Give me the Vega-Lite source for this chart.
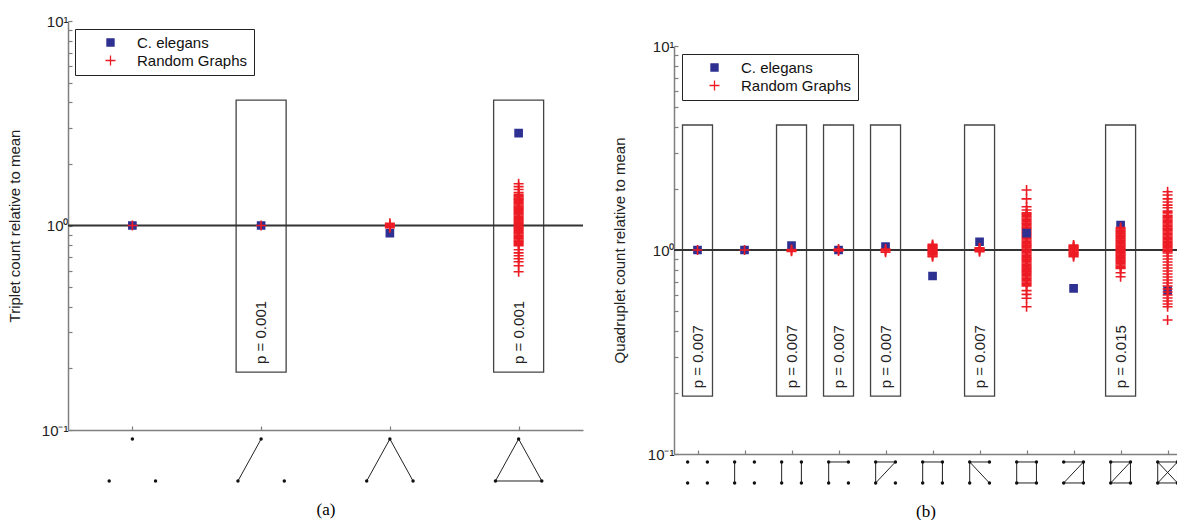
{
  "$schema": "https://vega.github.io/schema/vega-lite/v6.json",
  "background": "white",
  "padding": {"left": 7, "top": 14, "right": 0, "bottom": 0},
  "datasets": {
    "pointsA": [
      {"cat":1,"series":"C. elegans","value":1.0},
      {"cat":2,"series":"C. elegans","value":1.0},
      {"cat":3,"series":"C. elegans","value":0.918},
      {"cat":4,"series":"C. elegans","value":2.83},
      {"cat":1,"series":"Random Graphs","value":1.0},
      {"cat":2,"series":"Random Graphs","value":1.0},
      {"cat":3,"series":"Random Graphs","value":0.975},
      {"cat":3,"series":"Random Graphs","value":0.99},
      {"cat":3,"series":"Random Graphs","value":1.0},
      {"cat":3,"series":"Random Graphs","value":1.01},
      {"cat":3,"series":"Random Graphs","value":1.025},
      {"cat":4,"series":"Random Graphs","value":1.60},
      {"cat":4,"series":"Random Graphs","value":1.55},
      {"cat":4,"series":"Random Graphs","value":1.50},
      {"cat":4,"series":"Random Graphs","value":1.45},
      {"cat":4,"series":"Random Graphs","value":1.42},
      {"cat":4,"series":"Random Graphs","value":1.40},
      {"cat":4,"series":"Random Graphs","value":1.38},
      {"cat":4,"series":"Random Graphs","value":1.36},
      {"cat":4,"series":"Random Graphs","value":1.345},
      {"cat":4,"series":"Random Graphs","value":1.33},
      {"cat":4,"series":"Random Graphs","value":1.31},
      {"cat":4,"series":"Random Graphs","value":1.295},
      {"cat":4,"series":"Random Graphs","value":1.28},
      {"cat":4,"series":"Random Graphs","value":1.26},
      {"cat":4,"series":"Random Graphs","value":1.245},
      {"cat":4,"series":"Random Graphs","value":1.23},
      {"cat":4,"series":"Random Graphs","value":1.215},
      {"cat":4,"series":"Random Graphs","value":1.2},
      {"cat":4,"series":"Random Graphs","value":1.185},
      {"cat":4,"series":"Random Graphs","value":1.17},
      {"cat":4,"series":"Random Graphs","value":1.155},
      {"cat":4,"series":"Random Graphs","value":1.14},
      {"cat":4,"series":"Random Graphs","value":1.125},
      {"cat":4,"series":"Random Graphs","value":1.11},
      {"cat":4,"series":"Random Graphs","value":1.095},
      {"cat":4,"series":"Random Graphs","value":1.08},
      {"cat":4,"series":"Random Graphs","value":1.065},
      {"cat":4,"series":"Random Graphs","value":1.05},
      {"cat":4,"series":"Random Graphs","value":1.035},
      {"cat":4,"series":"Random Graphs","value":1.02},
      {"cat":4,"series":"Random Graphs","value":1.008},
      {"cat":4,"series":"Random Graphs","value":0.995},
      {"cat":4,"series":"Random Graphs","value":0.982},
      {"cat":4,"series":"Random Graphs","value":0.97},
      {"cat":4,"series":"Random Graphs","value":0.957},
      {"cat":4,"series":"Random Graphs","value":0.945},
      {"cat":4,"series":"Random Graphs","value":0.933},
      {"cat":4,"series":"Random Graphs","value":0.92},
      {"cat":4,"series":"Random Graphs","value":0.908},
      {"cat":4,"series":"Random Graphs","value":0.896},
      {"cat":4,"series":"Random Graphs","value":0.884},
      {"cat":4,"series":"Random Graphs","value":0.872},
      {"cat":4,"series":"Random Graphs","value":0.861},
      {"cat":4,"series":"Random Graphs","value":0.85},
      {"cat":4,"series":"Random Graphs","value":0.839},
      {"cat":4,"series":"Random Graphs","value":0.828},
      {"cat":4,"series":"Random Graphs","value":0.817},
      {"cat":4,"series":"Random Graphs","value":0.806},
      {"cat":4,"series":"Random Graphs","value":0.796},
      {"cat":4,"series":"Random Graphs","value":0.761},
      {"cat":4,"series":"Random Graphs","value":0.735},
      {"cat":4,"series":"Random Graphs","value":0.711},
      {"cat":4,"series":"Random Graphs","value":0.688},
      {"cat":4,"series":"Random Graphs","value":0.665},
      {"cat":4,"series":"Random Graphs","value":0.636},
      {"cat":4,"series":"Random Graphs","value":0.594}
    ],
    "pointsB": [
      {"cat":1,"series":"C. elegans","value":1.0},
      {"cat":2,"series":"C. elegans","value":1.0},
      {"cat":3,"series":"C. elegans","value":1.05},
      {"cat":4,"series":"C. elegans","value":1.0},
      {"cat":5,"series":"C. elegans","value":1.04},
      {"cat":6,"series":"C. elegans","value":0.746},
      {"cat":7,"series":"C. elegans","value":1.098},
      {"cat":9,"series":"C. elegans","value":0.649},
      {"cat":10,"series":"C. elegans","value":1.326},
      {"cat":11,"series":"C. elegans","value":0.632},
      {"cat":1,"series":"Random Graphs","value":1.0},
      {"cat":2,"series":"Random Graphs","value":1.0},
      {"cat":3,"series":"Random Graphs","value":0.985},
      {"cat":3,"series":"Random Graphs","value":0.995},
      {"cat":3,"series":"Random Graphs","value":1.005},
      {"cat":4,"series":"Random Graphs","value":0.99},
      {"cat":4,"series":"Random Graphs","value":1.0},
      {"cat":4,"series":"Random Graphs","value":1.01},
      {"cat":5,"series":"Random Graphs","value":0.975},
      {"cat":5,"series":"Random Graphs","value":0.99},
      {"cat":5,"series":"Random Graphs","value":1.0},
      {"cat":5,"series":"Random Graphs","value":1.01},
      {"cat":6,"series":"Random Graphs","value":1.065},
      {"cat":6,"series":"Random Graphs","value":1.055},
      {"cat":6,"series":"Random Graphs","value":1.045},
      {"cat":6,"series":"Random Graphs","value":1.035},
      {"cat":6,"series":"Random Graphs","value":1.025},
      {"cat":6,"series":"Random Graphs","value":1.015},
      {"cat":6,"series":"Random Graphs","value":1.005},
      {"cat":6,"series":"Random Graphs","value":0.995},
      {"cat":6,"series":"Random Graphs","value":0.985},
      {"cat":6,"series":"Random Graphs","value":0.975},
      {"cat":6,"series":"Random Graphs","value":0.965},
      {"cat":6,"series":"Random Graphs","value":0.955},
      {"cat":6,"series":"Random Graphs","value":0.945},
      {"cat":6,"series":"Random Graphs","value":0.935},
      {"cat":6,"series":"Random Graphs","value":0.927},
      {"cat":7,"series":"Random Graphs","value":0.98},
      {"cat":7,"series":"Random Graphs","value":0.99},
      {"cat":7,"series":"Random Graphs","value":1.0},
      {"cat":7,"series":"Random Graphs","value":1.01},
      {"cat":7,"series":"Random Graphs","value":1.02},
      {"cat":7,"series":"Random Graphs","value":1.026},
      {"cat":8,"series":"Random Graphs","value":1.97},
      {"cat":8,"series":"Random Graphs","value":1.78},
      {"cat":8,"series":"Random Graphs","value":1.63},
      {"cat":8,"series":"Random Graphs","value":1.57},
      {"cat":8,"series":"Random Graphs","value":1.52},
      {"cat":8,"series":"Random Graphs","value":1.50},
      {"cat":8,"series":"Random Graphs","value":1.475},
      {"cat":8,"series":"Random Graphs","value":1.455},
      {"cat":8,"series":"Random Graphs","value":1.435},
      {"cat":8,"series":"Random Graphs","value":1.415},
      {"cat":8,"series":"Random Graphs","value":1.395},
      {"cat":8,"series":"Random Graphs","value":1.375},
      {"cat":8,"series":"Random Graphs","value":1.355},
      {"cat":8,"series":"Random Graphs","value":1.335},
      {"cat":8,"series":"Random Graphs","value":1.315},
      {"cat":8,"series":"Random Graphs","value":1.295},
      {"cat":8,"series":"Random Graphs","value":1.275},
      {"cat":8,"series":"Random Graphs","value":1.258},
      {"cat":8,"series":"Random Graphs","value":1.24},
      {"cat":8,"series":"Random Graphs","value":1.222},
      {"cat":8,"series":"Random Graphs","value":1.205},
      {"cat":8,"series":"Random Graphs","value":1.188},
      {"cat":8,"series":"Random Graphs","value":1.171},
      {"cat":8,"series":"Random Graphs","value":1.154},
      {"cat":8,"series":"Random Graphs","value":1.137},
      {"cat":8,"series":"Random Graphs","value":1.12},
      {"cat":8,"series":"Random Graphs","value":1.104},
      {"cat":8,"series":"Random Graphs","value":1.088},
      {"cat":8,"series":"Random Graphs","value":1.072},
      {"cat":8,"series":"Random Graphs","value":1.057},
      {"cat":8,"series":"Random Graphs","value":1.042},
      {"cat":8,"series":"Random Graphs","value":1.027},
      {"cat":8,"series":"Random Graphs","value":1.012},
      {"cat":8,"series":"Random Graphs","value":0.998},
      {"cat":8,"series":"Random Graphs","value":0.984},
      {"cat":8,"series":"Random Graphs","value":0.97},
      {"cat":8,"series":"Random Graphs","value":0.956},
      {"cat":8,"series":"Random Graphs","value":0.942},
      {"cat":8,"series":"Random Graphs","value":0.928},
      {"cat":8,"series":"Random Graphs","value":0.915},
      {"cat":8,"series":"Random Graphs","value":0.902},
      {"cat":8,"series":"Random Graphs","value":0.889},
      {"cat":8,"series":"Random Graphs","value":0.876},
      {"cat":8,"series":"Random Graphs","value":0.863},
      {"cat":8,"series":"Random Graphs","value":0.851},
      {"cat":8,"series":"Random Graphs","value":0.839},
      {"cat":8,"series":"Random Graphs","value":0.827},
      {"cat":8,"series":"Random Graphs","value":0.815},
      {"cat":8,"series":"Random Graphs","value":0.803},
      {"cat":8,"series":"Random Graphs","value":0.792},
      {"cat":8,"series":"Random Graphs","value":0.781},
      {"cat":8,"series":"Random Graphs","value":0.77},
      {"cat":8,"series":"Random Graphs","value":0.759},
      {"cat":8,"series":"Random Graphs","value":0.748},
      {"cat":8,"series":"Random Graphs","value":0.737},
      {"cat":8,"series":"Random Graphs","value":0.727},
      {"cat":8,"series":"Random Graphs","value":0.717},
      {"cat":8,"series":"Random Graphs","value":0.707},
      {"cat":8,"series":"Random Graphs","value":0.697},
      {"cat":8,"series":"Random Graphs","value":0.687},
      {"cat":8,"series":"Random Graphs","value":0.677},
      {"cat":8,"series":"Random Graphs","value":0.667},
      {"cat":8,"series":"Random Graphs","value":0.632},
      {"cat":8,"series":"Random Graphs","value":0.606},
      {"cat":8,"series":"Random Graphs","value":0.58},
      {"cat":8,"series":"Random Graphs","value":0.527},
      {"cat":9,"series":"Random Graphs","value":1.058},
      {"cat":9,"series":"Random Graphs","value":1.048},
      {"cat":9,"series":"Random Graphs","value":1.038},
      {"cat":9,"series":"Random Graphs","value":1.028},
      {"cat":9,"series":"Random Graphs","value":1.018},
      {"cat":9,"series":"Random Graphs","value":1.008},
      {"cat":9,"series":"Random Graphs","value":0.998},
      {"cat":9,"series":"Random Graphs","value":0.988},
      {"cat":9,"series":"Random Graphs","value":0.978},
      {"cat":9,"series":"Random Graphs","value":0.968},
      {"cat":9,"series":"Random Graphs","value":0.958},
      {"cat":9,"series":"Random Graphs","value":0.948},
      {"cat":9,"series":"Random Graphs","value":0.938},
      {"cat":9,"series":"Random Graphs","value":0.927},
      {"cat":10,"series":"Random Graphs","value":1.29},
      {"cat":10,"series":"Random Graphs","value":1.27},
      {"cat":10,"series":"Random Graphs","value":1.252},
      {"cat":10,"series":"Random Graphs","value":1.234},
      {"cat":10,"series":"Random Graphs","value":1.217},
      {"cat":10,"series":"Random Graphs","value":1.2},
      {"cat":10,"series":"Random Graphs","value":1.183},
      {"cat":10,"series":"Random Graphs","value":1.166},
      {"cat":10,"series":"Random Graphs","value":1.15},
      {"cat":10,"series":"Random Graphs","value":1.134},
      {"cat":10,"series":"Random Graphs","value":1.118},
      {"cat":10,"series":"Random Graphs","value":1.102},
      {"cat":10,"series":"Random Graphs","value":1.087},
      {"cat":10,"series":"Random Graphs","value":1.072},
      {"cat":10,"series":"Random Graphs","value":1.057},
      {"cat":10,"series":"Random Graphs","value":1.042},
      {"cat":10,"series":"Random Graphs","value":1.027},
      {"cat":10,"series":"Random Graphs","value":1.013},
      {"cat":10,"series":"Random Graphs","value":0.999},
      {"cat":10,"series":"Random Graphs","value":0.985},
      {"cat":10,"series":"Random Graphs","value":0.971},
      {"cat":10,"series":"Random Graphs","value":0.957},
      {"cat":10,"series":"Random Graphs","value":0.944},
      {"cat":10,"series":"Random Graphs","value":0.931},
      {"cat":10,"series":"Random Graphs","value":0.918},
      {"cat":10,"series":"Random Graphs","value":0.905},
      {"cat":10,"series":"Random Graphs","value":0.892},
      {"cat":10,"series":"Random Graphs","value":0.88},
      {"cat":10,"series":"Random Graphs","value":0.868},
      {"cat":10,"series":"Random Graphs","value":0.856},
      {"cat":10,"series":"Random Graphs","value":0.844},
      {"cat":10,"series":"Random Graphs","value":0.832},
      {"cat":10,"series":"Random Graphs","value":0.82},
      {"cat":10,"series":"Random Graphs","value":0.813},
      {"cat":10,"series":"Random Graphs","value":0.774},
      {"cat":10,"series":"Random Graphs","value":0.74},
      {"cat":11,"series":"Random Graphs","value":1.93},
      {"cat":11,"series":"Random Graphs","value":1.86},
      {"cat":11,"series":"Random Graphs","value":1.78},
      {"cat":11,"series":"Random Graphs","value":1.72},
      {"cat":11,"series":"Random Graphs","value":1.66},
      {"cat":11,"series":"Random Graphs","value":1.61},
      {"cat":11,"series":"Random Graphs","value":1.55},
      {"cat":11,"series":"Random Graphs","value":1.52},
      {"cat":11,"series":"Random Graphs","value":1.48},
      {"cat":11,"series":"Random Graphs","value":1.46},
      {"cat":11,"series":"Random Graphs","value":1.44},
      {"cat":11,"series":"Random Graphs","value":1.42},
      {"cat":11,"series":"Random Graphs","value":1.40},
      {"cat":11,"series":"Random Graphs","value":1.38},
      {"cat":11,"series":"Random Graphs","value":1.36},
      {"cat":11,"series":"Random Graphs","value":1.34},
      {"cat":11,"series":"Random Graphs","value":1.32},
      {"cat":11,"series":"Random Graphs","value":1.30},
      {"cat":11,"series":"Random Graphs","value":1.28},
      {"cat":11,"series":"Random Graphs","value":1.262},
      {"cat":11,"series":"Random Graphs","value":1.244},
      {"cat":11,"series":"Random Graphs","value":1.226},
      {"cat":11,"series":"Random Graphs","value":1.208},
      {"cat":11,"series":"Random Graphs","value":1.19},
      {"cat":11,"series":"Random Graphs","value":1.172},
      {"cat":11,"series":"Random Graphs","value":1.155},
      {"cat":11,"series":"Random Graphs","value":1.138},
      {"cat":11,"series":"Random Graphs","value":1.121},
      {"cat":11,"series":"Random Graphs","value":1.104},
      {"cat":11,"series":"Random Graphs","value":1.088},
      {"cat":11,"series":"Random Graphs","value":1.072},
      {"cat":11,"series":"Random Graphs","value":1.056},
      {"cat":11,"series":"Random Graphs","value":1.04},
      {"cat":11,"series":"Random Graphs","value":1.025},
      {"cat":11,"series":"Random Graphs","value":1.01},
      {"cat":11,"series":"Random Graphs","value":0.995},
      {"cat":11,"series":"Random Graphs","value":0.98},
      {"cat":11,"series":"Random Graphs","value":0.967},
      {"cat":11,"series":"Random Graphs","value":0.935},
      {"cat":11,"series":"Random Graphs","value":0.903},
      {"cat":11,"series":"Random Graphs","value":0.873},
      {"cat":11,"series":"Random Graphs","value":0.844},
      {"cat":11,"series":"Random Graphs","value":0.816},
      {"cat":11,"series":"Random Graphs","value":0.789},
      {"cat":11,"series":"Random Graphs","value":0.763},
      {"cat":11,"series":"Random Graphs","value":0.737},
      {"cat":11,"series":"Random Graphs","value":0.713},
      {"cat":11,"series":"Random Graphs","value":0.689},
      {"cat":11,"series":"Random Graphs","value":0.666},
      {"cat":11,"series":"Random Graphs","value":0.644},
      {"cat":11,"series":"Random Graphs","value":0.622},
      {"cat":11,"series":"Random Graphs","value":0.602},
      {"cat":11,"series":"Random Graphs","value":0.582},
      {"cat":11,"series":"Random Graphs","value":0.562},
      {"cat":11,"series":"Random Graphs","value":0.544},
      {"cat":11,"series":"Random Graphs","value":0.527},
      {"cat":11,"series":"Random Graphs","value":0.454},
      {"cat":8,"series":"C. elegans","value":1.21}
    ],
    "boxesA": [
      {"cat":2,"label":"p = 0.001"},
      {"cat":4,"label":"p = 0.001"}
    ],
    "boxesB": [
      {"cat":1,"label":"p = 0.007"},
      {"cat":3,"label":"p = 0.007"},
      {"cat":4,"label":"p = 0.007"},
      {"cat":5,"label":"p = 0.007"},
      {"cat":7,"label":"p = 0.007"},
      {"cat":10,"label":"p = 0.015"}
    ],
    "edgesA": [
      {"x":1.82,"y":0,"x2":2,"y2":1},
      {"x":2.82,"y":0,"x2":3,"y2":1},
      {"x":3,"y":1,"x2":3.18,"y2":0},
      {"x":3.82,"y":0,"x2":4,"y2":1},
      {"x":4,"y":1,"x2":4.18,"y2":0},
      {"x":3.82,"y":0,"x2":4.18,"y2":0}
    ],
    "nodesA": [
      {"x":1,"y":1},{"x":0.82,"y":0},{"x":1.18,"y":0},
      {"x":2,"y":1},{"x":1.82,"y":0},{"x":2.18,"y":0},
      {"x":3,"y":1},{"x":2.82,"y":0},{"x":3.18,"y":0},
      {"x":4,"y":1},{"x":3.82,"y":0},{"x":4.18,"y":0}
    ],
    "edgesB": [
      {"x":1.79,"y":1,"x2":1.79,"y2":0},
      {"x":2.79,"y":1,"x2":2.79,"y2":0},
      {"x":3.21,"y":1,"x2":3.21,"y2":0},
      {"x":3.79,"y":1,"x2":3.79,"y2":0},
      {"x":3.79,"y":1,"x2":4.21,"y2":1},
      {"x":4.79,"y":1,"x2":4.79,"y2":0},
      {"x":4.79,"y":1,"x2":5.21,"y2":1},
      {"x":5.21,"y":1,"x2":4.79,"y2":0},
      {"x":5.79,"y":1,"x2":5.79,"y2":0},
      {"x":5.79,"y":1,"x2":6.21,"y2":1},
      {"x":6.21,"y":1,"x2":6.21,"y2":0},
      {"x":6.79,"y":1,"x2":6.79,"y2":0},
      {"x":6.79,"y":1,"x2":7.21,"y2":1},
      {"x":6.79,"y":1,"x2":7.21,"y2":0},
      {"x":7.79,"y":1,"x2":8.21,"y2":1},
      {"x":8.21,"y":1,"x2":8.21,"y2":0},
      {"x":8.21,"y":0,"x2":7.79,"y2":0},
      {"x":7.79,"y":0,"x2":7.79,"y2":1},
      {"x":8.79,"y":1,"x2":9.21,"y2":1},
      {"x":9.21,"y":1,"x2":8.79,"y2":0},
      {"x":8.79,"y":0,"x2":9.21,"y2":0},
      {"x":9.21,"y":1,"x2":9.21,"y2":0},
      {"x":9.79,"y":1,"x2":10.21,"y2":1},
      {"x":10.21,"y":1,"x2":10.21,"y2":0},
      {"x":10.21,"y":0,"x2":9.79,"y2":0},
      {"x":9.79,"y":0,"x2":9.79,"y2":1},
      {"x":10.21,"y":1,"x2":9.79,"y2":0},
      {"x":10.79,"y":1,"x2":11.21,"y2":1},
      {"x":11.21,"y":1,"x2":11.21,"y2":0},
      {"x":11.21,"y":0,"x2":10.79,"y2":0},
      {"x":10.79,"y":0,"x2":10.79,"y2":1},
      {"x":10.79,"y":1,"x2":11.21,"y2":0},
      {"x":11.21,"y":1,"x2":10.79,"y2":0}
    ],
    "nodesB": [
      {"x":0.79,"y":1},{"x":1.21,"y":1},{"x":0.79,"y":0},{"x":1.21,"y":0},
      {"x":1.79,"y":1},{"x":2.21,"y":1},{"x":1.79,"y":0},{"x":2.21,"y":0},
      {"x":2.79,"y":1},{"x":3.21,"y":1},{"x":2.79,"y":0},{"x":3.21,"y":0},
      {"x":3.79,"y":1},{"x":4.21,"y":1},{"x":3.79,"y":0},{"x":4.21,"y":0},
      {"x":4.79,"y":1},{"x":5.21,"y":1},{"x":4.79,"y":0},{"x":5.21,"y":0},
      {"x":5.79,"y":1},{"x":6.21,"y":1},{"x":5.79,"y":0},{"x":6.21,"y":0},
      {"x":6.79,"y":1},{"x":7.21,"y":1},{"x":6.79,"y":0},{"x":7.21,"y":0},
      {"x":7.79,"y":1},{"x":8.21,"y":1},{"x":7.79,"y":0},{"x":8.21,"y":0},
      {"x":8.79,"y":1},{"x":9.21,"y":1},{"x":8.79,"y":0},{"x":9.21,"y":0},
      {"x":9.79,"y":1},{"x":10.21,"y":1},{"x":9.79,"y":0},{"x":10.21,"y":0},
      {"x":10.79,"y":1},{"x":11.21,"y":1},{"x":10.79,"y":0},{"x":11.21,"y":0}
    ]
  },
  "hconcat": [
    {
      "width": 515,
      "height": 409,
      "layer": [
        {
          "layer": [
            {
              "data": {"name": "boxesA"},
              "mark": {"type": "bar", "width": 50, "filled": false, "color": "#444", "strokeWidth": 1.3},
              "encoding": {
                "x": {"field": "cat", "type": "quantitative", "scale": {"domain": [0.5, 4.5], "nice": false, "zero": false, "padding": 0}},
                "y": {"datum": 0.192, "type": "quantitative", "scale": {"type": "log", "domain": [0.1, 10], "nice": false, "padding": 0}},
                "y2": {"datum": 4.1}
              }
            },
            {
              "data": {"values": [{}]},
              "mark": {"type": "rule", "color": "#333", "strokeWidth": 2},
              "encoding": {"y": {"datum": 1, "type": "quantitative", "scale": {"type": "log", "domain": [0.1, 10], "nice": false, "padding": 0}}}
            },
            {
              "data": {"name": "pointsA"},
              "mark": {"type": "point", "filled": true, "opacity": 1, "strokeWidth": 1.6},
              "encoding": {
                "x": {"field": "cat", "type": "quantitative", "scale": {"domain": [0.5, 4.5], "nice": false, "zero": false, "padding": 0},
                  "axis": {"values": [1, 2, 3, 4], "labels": false, "tickSize": -4, "title": "(a)", "titleFont": "Liberation Serif", "titleFontSize": 17, "titleColor": "#000", "titlePadding": 71}},
                "y": {"field": "value", "type": "quantitative", "scale": {"type": "log", "domain": [0.1, 10], "nice": false, "padding": 0},
                  "axis": {"values": [0.1,0.2,0.3,0.4,0.5,0.6,0.7,0.8,0.9,1,2,3,4,5,6,7,8,9,10], "labelExpr": "datum.value == 0.1 ? '10⁻¹' : datum.value == 1 ? '10⁰' : datum.value == 10 ? '10¹' : ''", "tickSize": -4, "labelPadding": 4, "labelFlush": false, "labelOverlap": false, "titlePadding": 19, "title": "Triplet count relative to mean"}},
                "fill": {"field": "series", "type": "nominal", "scale": {"domain": ["C. elegans", "Random Graphs"], "range": ["#2E3192", "#ED1C24"]},
                  "legend": {"orient": "none", "legendX": 7, "legendY": 8, "title": null, "strokeColor": "#222", "fillColor": "white", "padding": 6, "labelFont": "Liberation Sans", "labelFontSize": 15, "labelColor": "#111", "symbolStrokeWidth": 1.3, "symbolOffset": 22, "labelOffset": 19, "rowPadding": 1}},
                "stroke": {"field": "series", "type": "nominal", "scale": {"domain": ["C. elegans", "Random Graphs"], "range": ["#2E3192", "#ED1C24"]},
                  "legend": {"orient": "none", "legendX": 7, "legendY": 8, "title": null, "strokeColor": "#222", "fillColor": "white", "padding": 6, "labelFont": "Liberation Sans", "labelFontSize": 15, "labelColor": "#111", "symbolStrokeWidth": 1.3, "symbolOffset": 22, "labelOffset": 19, "rowPadding": 1}},
                "shape": {"field": "series", "type": "nominal", "scale": {"domain": ["C. elegans", "Random Graphs"], "range": ["square", "M-1,0H1M0,-1V1"]},
                  "legend": {"orient": "none", "legendX": 7, "legendY": 8, "title": null, "strokeColor": "#222", "fillColor": "white", "padding": 6, "labelFont": "Liberation Sans", "labelFontSize": 15, "labelColor": "#111", "symbolStrokeWidth": 1.3, "symbolOffset": 22, "labelOffset": 19, "rowPadding": 1}},
                "size": {"field": "series", "type": "nominal", "scale": {"domain": ["C. elegans", "Random Graphs"], "range": [50, 100]},
                  "legend": {"orient": "none", "legendX": 7, "legendY": 8, "title": null, "strokeColor": "#222", "fillColor": "white", "padding": 6, "labelFont": "Liberation Sans", "labelFontSize": 15, "labelColor": "#111", "symbolStrokeWidth": 1.3, "symbolOffset": 22, "labelOffset": 19, "rowPadding": 1}}
              }
            },
            {
              "data": {"name": "boxesA"},
              "mark": {"type": "text", "angle": 270, "fontSize": 15, "font": "Liberation Sans", "color": "#222"},
              "encoding": {
                "x": {"field": "cat", "type": "quantitative", "scale": {"domain": [0.5, 4.5], "nice": false, "zero": false, "padding": 0}},
                "y": {"datum": 0.3, "type": "quantitative", "scale": {"type": "log", "domain": [0.1, 10], "nice": false, "padding": 0}},
                "text": {"field": "label"}
              }
            }
          ]
        },
        {
          "layer": [
            {
              "data": {"name": "edgesA"},
              "mark": {"type": "rule", "color": "#222", "strokeWidth": 1},
              "encoding": {
                "x": {"field": "x", "type": "quantitative", "scale": {"domain": [0.5, 4.5], "nice": false, "zero": false, "padding": 0}},
                "x2": {"field": "x2"},
                "y": {"field": "y", "type": "quantitative", "scale": {"domain": [1.214, 10.952], "nice": false, "zero": false}, "axis": null},
                "y2": {"field": "y2"}
              }
            },
            {
              "data": {"name": "nodesA"},
              "mark": {"type": "point", "filled": true, "color": "#111", "size": 12, "opacity": 1},
              "encoding": {
                "x": {"field": "x", "type": "quantitative", "scale": {"domain": [0.5, 4.5], "nice": false, "zero": false, "padding": 0}},
                "y": {"field": "y", "type": "quantitative", "scale": {"domain": [1.214, 10.952], "nice": false, "zero": false}, "axis": null}
              }
            }
          ]
        }
      ],
      "resolve": {"scale": {"y": "independent"}}
    },
    {
      "vconcat": [
        {
          "width": 10,
          "height": 1,
          "data": {"values": [{}]},
          "mark": {"type": "point", "opacity": 0},
          "encoding": {}
        },
        {
          "width": 503,
          "height": 408,
          "layer": [
            {
              "layer": [
                {
                  "data": {"name": "boxesB"},
                  "mark": {"type": "bar", "width": 30, "filled": false, "color": "#444", "strokeWidth": 1.3},
                  "encoding": {
                    "x": {"field": "cat", "type": "quantitative", "scale": {"domain": [0.5, 11.2], "nice": false, "zero": false, "padding": 0}},
                    "y": {"datum": 0.192, "type": "quantitative", "scale": {"type": "log", "domain": [0.1, 10], "nice": false, "padding": 0}},
                    "y2": {"datum": 4.1}
                  }
                },
                {
                  "data": {"values": [{}]},
                  "mark": {"type": "rule", "color": "#333", "strokeWidth": 2},
                  "encoding": {"y": {"datum": 1, "type": "quantitative", "scale": {"type": "log", "domain": [0.1, 10], "nice": false, "padding": 0}}}
                },
                {
                  "data": {"name": "pointsB"},
                  "mark": {"type": "point", "filled": true, "opacity": 1, "strokeWidth": 1.6},
                  "encoding": {
                    "x": {"field": "cat", "type": "quantitative", "scale": {"domain": [0.5, 11.2], "nice": false, "zero": false, "padding": 0},
                      "axis": {"values": [1,2,3,4,5,6,7,8,9,10,11], "labels": false, "tickSize": -4, "title": "(b)", "titleFont": "Liberation Serif", "titleFontSize": 17, "titleColor": "#000", "titlePadding": 49}},
                    "y": {"field": "value", "type": "quantitative", "scale": {"type": "log", "domain": [0.1, 10], "nice": false, "padding": 0},
                      "axis": {"values": [0.1,0.2,0.3,0.4,0.5,0.6,0.7,0.8,0.9,1,2,3,4,5,6,7,8,9,10], "labelExpr": "datum.value == 0.1 ? '10⁻¹' : datum.value == 1 ? '10⁰' : datum.value == 10 ? '10¹' : ''", "tickSize": -4, "labelPadding": 4, "labelFlush": false, "labelOverlap": false, "titlePadding": 20, "title": "Quadruplet count relative to mean"}},
                    "fill": {"field": "series", "type": "nominal", "scale": {"domain": ["C. elegans", "Random Graphs"], "range": ["#2E3192", "#ED1C24"]},
                      "legend": {"orient": "none", "legendX": 8, "legendY": 8, "title": null, "strokeColor": "#222", "fillColor": "white", "padding": 6, "labelFont": "Liberation Sans", "labelFontSize": 15, "labelColor": "#111", "symbolStrokeWidth": 1.3, "symbolOffset": 19, "labelOffset": 19, "rowPadding": 1}},
                    "stroke": {"field": "series", "type": "nominal", "scale": {"domain": ["C. elegans", "Random Graphs"], "range": ["#2E3192", "#ED1C24"]},
                      "legend": {"orient": "none", "legendX": 8, "legendY": 8, "title": null, "strokeColor": "#222", "fillColor": "white", "padding": 6, "labelFont": "Liberation Sans", "labelFontSize": 15, "labelColor": "#111", "symbolStrokeWidth": 1.3, "symbolOffset": 19, "labelOffset": 19, "rowPadding": 1}},
                    "shape": {"field": "series", "type": "nominal", "scale": {"domain": ["C. elegans", "Random Graphs"], "range": ["square", "M-1,0H1M0,-1V1"]},
                      "legend": {"orient": "none", "legendX": 8, "legendY": 8, "title": null, "strokeColor": "#222", "fillColor": "white", "padding": 6, "labelFont": "Liberation Sans", "labelFontSize": 15, "labelColor": "#111", "symbolStrokeWidth": 1.3, "symbolOffset": 19, "labelOffset": 19, "rowPadding": 1}},
                    "size": {"field": "series", "type": "nominal", "scale": {"domain": ["C. elegans", "Random Graphs"], "range": [50, 100]},
                      "legend": {"orient": "none", "legendX": 8, "legendY": 8, "title": null, "strokeColor": "#222", "fillColor": "white", "padding": 6, "labelFont": "Liberation Sans", "labelFontSize": 15, "labelColor": "#111", "symbolStrokeWidth": 1.3, "symbolOffset": 19, "labelOffset": 19, "rowPadding": 1}}
                  }
                },
                {
                  "data": {"name": "boxesB"},
                  "mark": {"type": "text", "angle": 270, "fontSize": 15, "font": "Liberation Sans", "color": "#222"},
                  "encoding": {
                    "x": {"field": "cat", "type": "quantitative", "scale": {"domain": [0.5, 11.2], "nice": false, "zero": false, "padding": 0}},
                    "y": {"datum": 0.3, "type": "quantitative", "scale": {"type": "log", "domain": [0.1, 10], "nice": false, "padding": 0}},
                    "text": {"field": "label"}
                  }
                }
              ]
            },
            {
              "layer": [
                {
                  "data": {"name": "edgesB"},
                  "mark": {"type": "rule", "color": "#222", "strokeWidth": 1},
                  "encoding": {
                    "x": {"field": "x", "type": "quantitative", "scale": {"domain": [0.5, 11.2], "nice": false, "zero": false, "padding": 0}},
                    "x2": {"field": "x2"},
                    "y": {"field": "y", "type": "quantitative", "scale": {"domain": [1.38, 20.81], "nice": false, "zero": false}, "axis": null},
                    "y2": {"field": "y2"}
                  }
                },
                {
                  "data": {"name": "nodesB"},
                  "mark": {"type": "point", "filled": true, "color": "#111", "size": 12, "opacity": 1},
                  "encoding": {
                    "x": {"field": "x", "type": "quantitative", "scale": {"domain": [0.5, 11.2], "nice": false, "zero": false, "padding": 0}},
                    "y": {"field": "y", "type": "quantitative", "scale": {"domain": [1.38, 20.81], "nice": false, "zero": false}, "axis": null}
                  }
                }
              ]
            }
          ],
          "resolve": {"scale": {"y": "independent"}}
        }
      ],
      "spacing": 14,
      "resolve": {"scale": {"fill": "independent", "stroke": "independent", "shape": "independent", "size": "independent"}}
    }
  ],
  "spacing": 28,
  "resolve": {"scale": {"fill": "independent", "stroke": "independent", "shape": "independent", "size": "independent"}},
  "config": {
    "view": {"stroke": null},
    "font": "Liberation Sans",
    "axis": {"grid": false, "domainColor": "#7f7f7f", "domainWidth": 1.5, "tickColor": "#7f7f7f", "tickWidth": 1.2, "labelFont": "Liberation Sans", "labelFontSize": 15, "labelColor": "#222", "titleFont": "Liberation Sans", "titleFontSize": 15, "titleFontWeight": "normal", "titleColor": "#222"}
  }
}
